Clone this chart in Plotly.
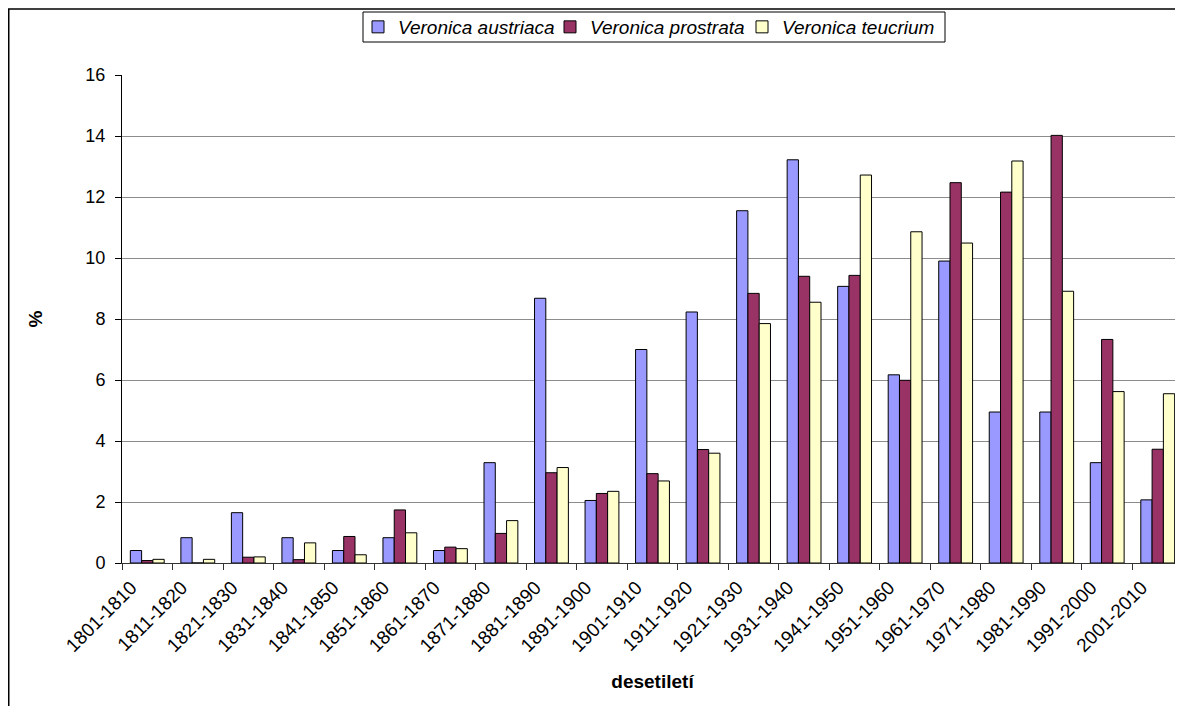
import plotly.graph_objects as go

decades = ["1801-1810", "1811-1820", "1821-1830", "1831-1840", "1841-1850",
           "1851-1860", "1861-1870", "1871-1880", "1881-1890", "1891-1900",
           "1901-1910", "1911-1920", "1921-1930", "1931-1940", "1941-1950",
           "1951-1960", "1961-1970", "1971-1980", "1981-1990", "1991-2000",
           "2001-2010"]

austriaca = [0.41, 0.83, 1.65, 0.83, 0.41, 0.83, 0.41, 3.29, 8.68, 2.05,
             7.0, 8.23, 11.55, 13.22, 9.07, 6.17, 9.9, 4.95, 4.95, 3.29, 2.07]
prostrata = [0.08, 0.0, 0.19, 0.11, 0.87, 1.74, 0.52, 0.97, 2.96, 2.28,
             2.93, 3.72, 8.84, 9.4, 9.43, 5.99, 12.47, 12.16, 14.02, 7.33, 3.73]
teucrium = [0.12, 0.12, 0.2, 0.66, 0.27, 0.99, 0.47, 1.39, 3.13, 2.35,
            2.69, 3.6, 7.85, 8.55, 12.72, 10.86, 10.49, 13.18, 8.91, 5.62, 5.55]

series_names = ["Veronica austriaca", "Veronica prostrata", "Veronica teucrium"]
series_colors = ["#9999FF", "#993366", "#FFFFCC"]
y_ticks = [0, 2, 4, 6, 8, 10, 12, 14, 16]

FONT = "Liberation Sans, Arial, sans-serif"

# the page body has an 8px default margin; work in figure pixels = screen - 8
OFF = 8
W, H = 1183 - OFF, 706 - OFF
L = 122 - OFF
T = 75 - OFF
R = 0
B = H - (563 - OFF)
pw, ph = W - L - R, H - T - B

def px_x(p):  # screen pixel -> paper x
    return (p - OFF - L) / pw

def px_y(p):  # screen pixel -> paper y
    return (H - B - (p - OFF)) / ph

fig = go.Figure()
for name, vals, col in zip(series_names, [austriaca, prostrata, teucrium], series_colors):
    fig.add_trace(go.Bar(
        x=decades, y=vals, name=name,
        marker=dict(color=col, line=dict(color="#000000", width=1)),
    ))

fig.update_layout(
    width=W, height=H,
    margin=dict(l=L, r=R, t=T, b=B, autoexpand=False),
    paper_bgcolor="white", plot_bgcolor="white",
    barmode="group", bargap=0.33, bargroupgap=0,
    font=dict(family=FONT, size=18, color="black"),
    showlegend=True,
    legend=dict(
        orientation="h",
        x=px_x(646), xanchor="center",
        y=px_y(27), yanchor="middle",
        borderwidth=0,
        bgcolor="rgba(0,0,0,0)",
        font=dict(family=FONT, size=19, style="italic"),
        itemwidth=30,
        entrywidth=147, entrywidthmode="pixels",
    ),
    xaxis=dict(
        type="category",
        tickson="boundaries",
        ticks="outside", ticklen=6, tickcolor="#333333",
        tickangle=-45,
        ticklabelshift=-16,
        ticklabelstandoff=5,
        showline=True, linecolor="#333333", linewidth=1,
        showgrid=False,
        tickfont=dict(family=FONT, size=19),
        title=dict(text="<b>desetiletí</b>", font=dict(family=FONT, size=19), standoff=19),
        automargin=False,
    ),
    yaxis=dict(
        range=[0, 16],
        tickvals=y_ticks,
        ticks="outside", ticklen=6, tickcolor="black",
        showline=True, linecolor="black", linewidth=1,
        showgrid=True, gridcolor="#8c8c8c", gridwidth=1,
        zeroline=False,
        tickfont=dict(family=FONT, size=18),
        ticklabelstandoff=6,
        title=dict(text="<b>%</b>", font=dict(family=FONT, size=19), standoff=37),
        automargin=False,
    ),
    shapes=[
        dict(
            type="rect", xref="paper", yref="paper",
            x0=(0.75 - L) / pw, x1=px_x(1183 + 20),
            y0=px_y(706 + 20), y1=(H - B - 1.0) / ph,
            line=dict(color="black", width=1.5), fillcolor="rgba(0,0,0,0)",
            layer="below",
        ),
        dict(
            type="rect", xref="paper", yref="paper",
            x0=px_x(363), x1=px_x(945), y0=px_y(42), y1=px_y(12),
            line=dict(color="black", width=1), fillcolor="white",
            layer="below",
        ),
    ],
)

fig.write_html("out.html")
